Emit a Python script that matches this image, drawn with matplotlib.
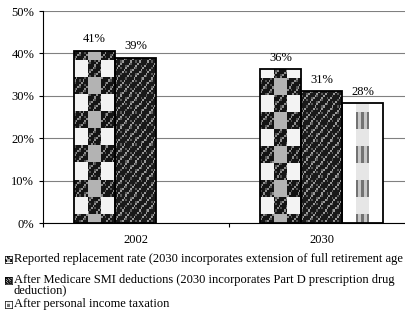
import numpy as np
import matplotlib.pyplot as plt

plt.rcParams['font.family'] = ['Liberation Serif', 'DejaVu Serif']
plt.rcParams['font.size'] = 9

# replacement rates by year
years = ['2002', '2030']
reported = [0.406, 0.363]
after_smi = [0.390, 0.311]
after_tax = [None, 0.282]

legend_labels = [
    'Reported replacement rate (2030 incorporates extension of full retirement age',
    'After Medicare SMI deductions (2030 incorporates Part D prescription drug\ndeduction)',
    'After personal income taxation',
]
yticks = [0, 0.1, 0.2, 0.3, 0.4, 0.5]

# pattern cells are 4 points tall, starting just below zero
CELL = 0.04
START = -0.018
NROWS = 14


def grain(rows, cols, lo, hi):
    # fixed speckle made from index arithmetic
    i, j = np.mgrid[0:rows, 0:cols]
    tex = np.full((rows, cols), lo)
    tex[((i * 7 + j * 13) % 5) == 0] = hi
    tex[((i * 3 + j * 11) % 9) == 0] = (lo + hi) / 2
    return tex


def checker():
    sub = 8
    tex = grain(NROWS * sub, 3 * sub, 0.08, 0.55)
    for k in range(NROWS):
        rows = slice(k * sub, (k + 1) * sub)
        if k % 2:
            tex[rows, :sub] = 0.95
            tex[rows, 2 * sub:] = 0.95
        else:
            tex[rows, sub:2 * sub] = 0.7
    return tex


def dark():
    return grain(NROWS * 8, 24, 0.1, 0.6)


def stripes():
    tex = np.ones((NROWS, 15))
    for k in range(NROWS):
        if k % 2 == 0:
            tex[k, 5:10] = [0.45, 0.78, 0.45, 0.78, 0.45]
        else:
            tex[k, 5:10] = 0.9
    return tex


textures = [checker(), dark(), stripes()]
series = [reported, after_smi, after_tax]

fig = plt.figure(figsize=(4.05, 3.23), dpi=100)
ax = fig.add_axes([42.5 / 405, 100 / 323, 372 / 405, 212 / 323])

width = 0.22
x = np.arange(len(years))
for i, (vals, tex) in enumerate(zip(series, textures)):
    for j, v in enumerate(vals):
        if v is None:
            continue
        xpos = x[j] + (i - 1) * width
        bar = ax.bar(xpos, v, width, facecolor='none', edgecolor='black',
                     linewidth=1.3, zorder=3)[0]
        im = ax.imshow(tex, extent=(xpos - width / 2, xpos + width / 2,
                                    START, START + NROWS * CELL),
                       origin='lower', cmap='gray', vmin=0, vmax=1,
                       interpolation='nearest', aspect='auto', zorder=2)
        im.set_clip_path(bar)
        ax.annotate(f'{v:.0%}', (xpos, v), xytext=(0, 4),
                    textcoords='offset points', ha='center', va='bottom')

ax.set_xlim(-0.5, 1.5)
ax.set_ylim(0, 0.5)
ax.set_yticks(yticks)
ax.set_yticklabels([f'{t:.0%}' for t in yticks])
ax.set_xticks(x)
ax.set_xticklabels(years)
ax.set_xticks([-0.5, 0.5], minor=True)
ax.tick_params(axis='x', which='major', length=0, pad=8)
ax.tick_params(axis='x', which='minor', length=3, direction='out', width=0.8)
ax.tick_params(axis='y', length=3, direction='out', width=0.8, pad=3)
ax.yaxis.grid(True, color='#808080', linewidth=0.8)
ax.set_axisbelow(True)
for s in ['top', 'right']:
    ax.spines[s].set_visible(False)
ax.spines['left'].set_linewidth(0.8)
ax.spines['bottom'].set_linewidth(0.8)

# legend drawn below the plot, marker beside the first line of each label
legend_y = [259, 280, 304]
for label, tex, y in zip(legend_labels, textures, legend_y):
    mk = fig.add_axes([5 / 405, 1 - (y + 3.5) / 323, 7 / 405, 7 / 323])
    mk.imshow(tex[:tex.shape[0] // NROWS * 2], cmap='gray', vmin=0, vmax=1,
              origin='lower', interpolation='nearest', aspect='auto')
    mk.set_xticks([])
    mk.set_yticks([])
    for s in mk.spines.values():
        s.set_linewidth(0.5)
    nlines = label.count('\n') + 1
    yc = y + 9.5 * (nlines - 1) / 2
    fig.text(14 / 405, 1 - yc / 323, label, va='center', ha='left',
             linespacing=0.8)

fig.savefig('out.png', dpi=100)
